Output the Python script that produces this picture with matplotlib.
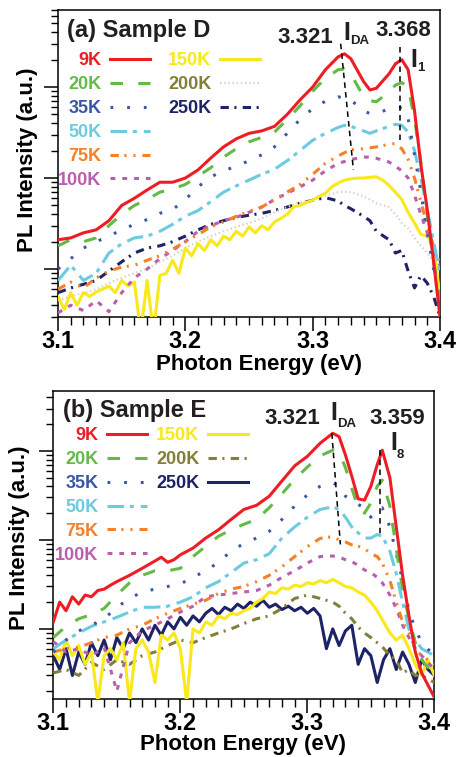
import numpy as np
import matplotlib
matplotlib.use('Agg')
import matplotlib.pyplot as plt
from matplotlib.ticker import MultipleLocator, LogLocator, NullFormatter

plt.rcParams['font.family'] = ['Liberation Sans', 'DejaVu Sans']
plt.rcParams['font.weight'] = 'bold'
plt.rcParams['lines.scale_dashes'] = False

temps = ['9K', '20K', '35K', '50K', '75K', '100K', '150K', '200K', '250K']

# ---------------- panel (a) Sample D ----------------
E_a = [3.10, 3.11, 3.12, 3.13, 3.14, 3.15, 3.16, 3.17, 3.18, 3.19, 3.20, 3.21,
       3.22, 3.23, 3.24, 3.25, 3.26, 3.27, 3.28, 3.29, 3.30, 3.31, 3.32, 3.325,
       3.33, 3.34, 3.345, 3.35, 3.36, 3.365, 3.37, 3.375, 3.38, 3.385, 3.39, 3.395, 3.40]

d_9K = [2.1, 2.2, 2.5, 2.7, 3.4, 5.0, 6.0, 7.4, 9.0, 9.0, 10, 12.3, 16.6, 22, 27, 31, 33, 37,
        50, 72, 100, 155, 215, 232, 205, 115, 93, 97, 140, 180, 200, 155, 55, 14, 4.5, 1.2, 0.3]
d_20K = [1.8, 2.1, 2.0, 2.2, 3.0, 4.0, 5.0, 5.8, 7.0, 7.6, 8.5, 10.5, 13, 17, 21, 25, 28, 32,
         44, 62, 90, 125, 155, 158, 140, 78, 71, 69, 88, 105, 112, 100, 45, 15, 4, 1.2, 0.45]
d_35K = [1.0, 1.3, 1.7, 2.0, 2.3, 2.7, 3.1, 3.5, 4.1, 4.5, 5.8, 8.0, 10.3, 12, 13.5, 15.5, 18, 22,
         31, 44, 58, 70, 78, 76, 72, 55, 51, 52, 57, 59, 60, 45, 18, 7, 2.5, 1.0, 0.4]
d_50K = [0.75, 1.1, 0.75, 0.9, 1.5, 1.9, 2.2, 2.3, 2.6, 3.1, 3.8, 4.4, 5.5, 7.0, 8.2, 9.5, 11, 12.5,
         15.5, 20, 26, 31, 36, 38, 37, 33, 31, 33, 37, 39, 38, 32, 20, 10, 4.5, 2.0, 0.9]
d_75K = [0.6, 0.72, 0.62, 0.8, 0.95, 1.05, 1.1, 1.25, 1.4, 1.65, 2.0, 2.4, 2.9, 3.3, 3.8, 4.3, 4.8, 5.8,
         7.0, 8.5, 11, 14.5, 17.5, 19, 20.5, 21, 21.5, 22, 23.5, 24, 21, 16, 10, 5.5, 3.0, 1.8, 1.2]
d_100K = [0.33, 0.40, 0.35, 0.45, 0.34, 0.55, 0.8, 1.0, 1.3, 1.6, 2.0, 2.6, 3.0, 3.4, 3.7, 4.2, 4.8, 5.8,
          6.8, 8.0, 9.5, 12, 14.5, 15.2, 16, 17, 17, 16.5, 15, 13.5, 12, 10, 6.5, 4, 2.5, 1.6, 1.1]
d_200K = [0.45, 0.5, 0.55, 0.6, 0.7, 0.8, 0.9, 1.0, 1.2, 1.4, 1.7, 2.0, 2.3, 2.6, 2.9, 3.2, 3.6, 4.2,
          4.8, 5.4, 5.8, 6.4, 7.0, 7.1, 7.0, 6.3, 5.8, 5.3, 4.8, 4.0, 3.2, 2.8, 2.2, 1.8, 1.5, 1.2, 1.0]
d_250K = [0.55, 0.62, 0.68, 0.75, 0.95, 1.2, 1.5, 1.7, 1.8, 2.0, 2.3, 2.7, 3.1, 3.4, 3.7, 3.9, 4.1, 4.4,
          4.8, 5.3, 5.7, 6.1, 5.6, 5.0, 4.6, 3.8, 3.4, 2.6, 2.1, 1.5, 1.6, 0.95, 0.62, 0.85, 0.7, 0.5, 0.3]

# 150K is noisy, read on a finer 5 meV grid
E_a_fine = np.round(np.arange(3.10, 3.4001, 0.005), 3)
d_150K = [0.5, 0.36, 0.55, 0.4, 0.55, 0.5, 0.56, 0.6, 0.65, 0.55,
          0.75, 0.65, 0.72, 0.2, 0.75, 0.2, 0.85, 0.9, 1.25, 0.9,
          1.7, 1.4, 1.9, 1.6, 2.1, 1.8, 2.3, 2.1, 2.6, 2.3,
          2.9, 2.5, 3.0, 2.7, 3.3, 3.6, 4.0, 4.8, 5.0, 5.4,
          5.7, 6.3, 6.8, 8.0, 8.8, 9.5, 9.8, 10, 10, 10.2,
          10.3, 9.5, 8.3, 7.0, 5.8, 4.2, 3.2, 2.4, 2.3, 1.8, 0.5]

series_a = {'9K': (E_a, d_9K), '20K': (E_a, d_20K), '35K': (E_a, d_35K),
            '50K': (E_a, d_50K), '75K': (E_a, d_75K), '100K': (E_a, d_100K),
            '150K': (E_a_fine, d_150K), '200K': (E_a, d_200K), '250K': (E_a, d_250K)}

mark_a_x = [[3.322, 3.332], [3.3686, 3.3686]]
mark_a_y = [[300, 12.3], [275, 26]]

# ---------------- panel (b) Sample E ----------------
E_b = [3.10, 3.11, 3.12, 3.13, 3.14, 3.15, 3.16, 3.17, 3.18, 3.19, 3.20, 3.21,
       3.22, 3.23, 3.24, 3.25, 3.26, 3.27, 3.28, 3.29, 3.30, 3.31, 3.32, 3.325,
       3.33, 3.335, 3.34, 3.345, 3.35, 3.355, 3.359, 3.365, 3.37, 3.375, 3.38, 3.385, 3.39, 3.40]

E_b_red = [3.10, 3.105, 3.11, 3.115, 3.12, 3.125, 3.13, 3.135, 3.14, 3.145, 3.15, 3.16, 3.17, 3.18,
           3.185, 3.19, 3.195, 3.20, 3.21, 3.22, 3.23, 3.24, 3.25, 3.26, 3.27, 3.28, 3.29, 3.30,
           3.31, 3.32, 3.325, 3.33, 3.335, 3.34, 3.345, 3.35, 3.355, 3.359, 3.365, 3.37, 3.375,
           3.38, 3.385, 3.39, 3.40]
e_9K = [1.2, 2.0, 1.6, 2.3, 1.9, 2.4, 2.3, 2.7, 2.8, 3.1, 3.4, 4.0, 4.8, 5.8,
        6.4, 5.6, 6.0, 6.8, 8.1, 10.5, 13, 17, 22, 24.5, 31, 46, 68, 87,
        122, 158, 145, 90, 52, 29, 28, 40, 70, 102, 50, 14, 4.0,
        1.4, 0.55, 0.32, 0.17]
e_20K = [0.8, 1.07, 1.3, 1.45, 1.7, 2.4, 3.3, 4.0, 4.5, 4.5, 4.8, 6.5, 8.5, 11, 13, 15, 17, 23,
         33, 48, 66, 88, 102, 96, 65, 38, 23, 20, 26, 40, 47, 24, 8, 2.8, 1.3, 0.7, 0.45, 0.3]
e_35K = [0.55, 0.75, 0.95, 1.1, 1.3, 1.75, 2.2, 2.6, 2.8, 3.0, 3.2, 3.8, 4.5, 5.6, 7.5, 9.1, 10.5, 12.5,
         17, 24, 32, 40, 44, 40, 31, 28, 25, 23, 18, 22, 23, 14, 7, 3.5, 1.6, 1.0, 0.7, 0.5]
e_50K = [0.6, 0.75, 0.9, 1.07, 1.2, 1.35, 1.55, 1.75, 1.75, 1.8, 2.0, 2.3, 2.9, 3.4, 4.3, 5.5, 6.0, 7.0,
         10.5, 14, 18, 22, 23.5, 22, 18, 14, 12, 10.5, 10.5, 11.5, 11, 7.5, 4.2, 2.0, 1.0, 0.75, 0.6, 0.5]
e_75K = [0.55, 0.6, 0.62, 0.7, 0.8, 0.85, 1.0, 1.1, 1.3, 1.5, 1.7, 1.9, 2.1, 2.5, 2.8, 3.0, 3.4, 4.0,
         5.0, 6.5, 8.4, 10.4, 10.9, 10, 9.5, 8.8, 8.5, 8.0, 7.0, 6.5, 5.5, 3.5, 2.0, 1.2, 0.9, 0.6, 0.5, 0.4]
e_100K = [0.72, 0.55, 0.6, 0.5, 0.62, 0.2, 0.7, 0.95, 1.1, 1.3, 1.55, 1.8, 2.3, 2.4, 2.5, 2.6, 2.7, 3.1,
          3.8, 4.5, 5.5, 6.5, 6.6, 6.4, 6.0, 5.7, 5.2, 4.6, 4.3, 3.8, 3.3, 2.4, 1.7, 1.1, 0.8, 0.6, 0.5, 0.35]
e_200K = [0.32, 0.35, 0.3, 0.42, 0.35, 0.45, 0.4, 0.5, 0.55, 0.65, 0.75, 0.7, 0.8, 0.9, 1.0, 1.15, 1.3, 1.4,
          1.7, 2.2, 2.4, 2.2, 2.0, 1.8, 1.5, 1.3, 1.05, 0.9, 0.8, 0.7, 0.63, 0.5, 0.45, 0.32, 0.35, 0.3, 0.3, 0.25]

E_b_fine = np.round(np.arange(3.10, 3.4001, 0.005), 3)
e_150K = [0.55, 0.45, 0.75, 0.5, 0.65, 0.4, 0.55, 0.15, 0.5, 0.6,
          0.45, 0.7, 0.15, 0.6, 0.75, 0.55, 0.25, 0.85, 0.75, 0.9,
          0.6, 0.15, 1.0, 0.9, 1.2, 1.1, 1.4, 1.3, 1.5, 1.45,
          1.6, 1.7, 2.0, 2.2, 2.6, 2.5, 2.9, 2.8, 3.1, 3.0,
          3.3, 3.2, 3.5, 3.3, 3.6, 3.3, 3.0, 2.9, 2.6, 2.4,
          2.0, 1.6, 1.2, 0.9, 0.75, 0.85, 0.6, 0.4, 0.3, 0.45, 0.3]
e_250K = [0.5, 0.35, 0.6, 0.3, 0.55, 0.4, 0.7, 0.5, 0.75, 0.45,
          0.8, 0.6, 0.9, 0.7, 1.0, 0.75, 1.1, 0.85, 1.2, 1.0,
          1.35, 1.1, 1.4, 1.2, 1.5, 1.7, 1.45, 1.75, 1.6, 1.9,
          1.7, 2.0, 1.8, 2.1, 1.75, 1.9, 1.65, 1.8, 1.6, 1.75,
          1.5, 1.7, 1.4, 0.6, 1.0, 0.65, 0.95, 1.1, 0.4, 0.6,
          0.5, 0.25, 0.45, 0.6, 0.35, 0.55, 0.4, 0.25, 0.45, 0.35, 0.3]

series_b = {'9K': (E_b_red, e_9K), '20K': (E_b, e_20K), '35K': (E_b, e_35K),
            '50K': (E_b, e_50K), '75K': (E_b, e_75K), '100K': (E_b, e_100K),
            '150K': (E_b_fine, e_150K), '200K': (E_b, e_200K), '250K': (E_b_fine, e_250K)}

mark_b_x = [[3.3193, 3.326], [3.357, 3.357]]
mark_b_y = [[158, 8.9], [103, 11.5]]

# ---------------- styles ----------------
colors = {'9K': '#ee1c25', '20K': '#62bb46', '35K': '#3a57a7', '50K': '#6ccbe0',
          '75K': '#f58025', '100K': '#b95fae', '150K': '#f9e81a', '200K': '#827f3a',
          '250K': '#1d2366'}
styles = {'9K': '-', '20K': (0, (9, 11)), '35K': (0, (2, 10)), '50K': (0, (12, 4, 3, 5)),
          '75K': (0, (6, 4, 1.5, 5, 1.5, 5)), '100K': (0, (3.5, 5)), '150K': '-',
          '200K': (0, (6, 4, 1.5, 4.5)), '250K': (0, (6, 4, 1.5, 4.5))}

fig = plt.figure(figsize=(4.61, 7.57), dpi=100)
ax_a = fig.add_axes([0.1258, 0.5812, 0.8286, 0.4055])
ax_b = fig.add_axes([0.1157, 0.0766, 0.8265, 0.4069])


def draw_panel(ax, series, panel):
    handles = []
    for t in temps:
        x, y = series[t]
        c = colors[t]
        ls = styles[t]
        lw = 2.2
        if panel == 'a' and t == '200K':
            c, ls, lw = '#d6d2bf', (0, (1, 2)), 1.6
        if panel == 'b' and t == '250K':
            ls = '-'
        h, = ax.plot(x, y, color=c, linestyle=ls, lw=lw, label=t)
        handles.append(h)
    # low temperature curves on top
    for i, h in enumerate(handles):
        h.set_zorder(20 - i)
    return handles


def style_axes(ax, ylim):
    ax.set_yscale('log')
    ax.set_xlim(3.1, 3.4)
    ax.set_ylim(*ylim)
    ax.xaxis.set_major_locator(MultipleLocator(0.1))
    ax.xaxis.set_minor_locator(MultipleLocator(0.01))
    ax.yaxis.set_major_locator(LogLocator(base=10))
    ax.yaxis.set_minor_locator(LogLocator(base=10, subs=np.arange(2, 10)))
    ax.yaxis.set_major_formatter(NullFormatter())
    ax.yaxis.set_minor_formatter(NullFormatter())
    ax.set_xticks([3.1, 3.2, 3.3, 3.4])
    ax.set_xticklabels(['3.1', '3.2', '3.3', '3.4'])
    ax.tick_params(axis='x', which='major', direction='out', length=10, width=1.1,
                   labelsize=17, pad=-1, top=False)
    ax.tick_params(axis='x', which='minor', direction='out', length=5.5, width=1.0, top=False)
    ax.tick_params(axis='y', which='major', direction='out', length=10, width=1.1, right=False)
    ax.tick_params(axis='y', which='minor', direction='out', length=5, width=1.0, right=False)
    for lab in ax.get_xticklabels():
        lab.set_fontweight('bold')
    for s in ax.spines.values():
        s.set_linewidth(1.1)
    ax.set_xlabel('Photon Energy (eV)', fontsize=16, fontweight='bold')
    ax.set_ylabel('PL Intensity (a.u.)', fontsize=16, fontweight='bold')


def add_legends(ax, handles, x1, x2, ytop, text_colors):
    kw = dict(loc='upper right', frameon=False, markerfirst=False, borderpad=0,
              borderaxespad=0, handlelength=2.2, handletextpad=0.5, labelspacing=0.38,
              prop={'size': 13, 'weight': 'bold'})
    leg1 = ax.legend(handles[:6], temps[:6], bbox_to_anchor=(x1, ytop),
                     labelcolor=text_colors[:6], **kw)
    ax.add_artist(leg1)
    leg2 = ax.legend(handles[6:], temps[6:], bbox_to_anchor=(x2, ytop),
                     labelcolor=text_colors[6:], **kw)
    for leg in (leg1, leg2):
        leg.set_zorder(30)


text_cols = [colors[t] for t in temps]
ink = '#231f20'

# panel a
h_a = draw_panel(ax_a, series_a, 'a')
style_axes(ax_a, (0.297, 702))
for mx, my in zip(mark_a_x, mark_a_y):
    ax_a.plot(mx, my, color='black', lw=1.1, linestyle=(0, (4, 3)), zorder=25)
add_legends(ax_a, h_a, 0.241, 0.529, 0.862, text_cols)
ax_a.text(0.024, 0.935, '(a) Sample D', transform=ax_a.transAxes, fontsize=17,
          fontweight='bold', ha='left', va='center', color=ink)
ax_a.text(0.647, 0.912, '3.321', transform=ax_a.transAxes, fontsize=16,
          fontweight='bold', ha='center', va='center', color=ink)
ax_a.text(0.747, 0.925, 'I', transform=ax_a.transAxes, fontsize=18,
          fontweight='bold', ha='left', va='center', color=ink)
ax_a.text(0.764, 0.898, 'DA', transform=ax_a.transAxes, fontsize=9.5,
          fontweight='bold', ha='left', va='center', color=ink)
ax_a.text(0.903, 0.935, '3.368', transform=ax_a.transAxes, fontsize=16,
          fontweight='bold', ha='center', va='center', color=ink)
ax_a.text(0.922, 0.838, 'I', transform=ax_a.transAxes, fontsize=18,
          fontweight='bold', ha='left', va='center', color=ink)
ax_a.text(0.940, 0.812, '1', transform=ax_a.transAxes, fontsize=9.5,
          fontweight='bold', ha='left', va='center', color=ink)
ax_a.xaxis.set_label_coords(0.526, -0.122)
ax_a.yaxis.set_label_coords(-0.052, 0.511)

# panel b
h_b = draw_panel(ax_b, series_b, 'b')
style_axes(ax_b, (0.163, 472))
for mx, my in zip(mark_b_x, mark_b_y):
    ax_b.plot(mx, my, color='black', lw=1.1, linestyle=(0, (4, 3)), zorder=25)
add_legends(ax_b, h_b, 0.246, 0.511, 0.882, text_cols)
ax_b.text(0.025, 0.938, '(b) Sample E', transform=ax_b.transAxes, fontsize=17,
          fontweight='bold', ha='left', va='center', color=ink)
ax_b.text(0.627, 0.912, '3.321', transform=ax_b.transAxes, fontsize=16,
          fontweight='bold', ha='center', va='center', color=ink)
ax_b.text(0.726, 0.929, 'I', transform=ax_b.transAxes, fontsize=18,
          fontweight='bold', ha='left', va='center', color=ink)
ax_b.text(0.744, 0.893, 'DA', transform=ax_b.transAxes, fontsize=9.5,
          fontweight='bold', ha='left', va='center', color=ink)
ax_b.text(0.902, 0.912, '3.359', transform=ax_b.transAxes, fontsize=16,
          fontweight='bold', ha='center', va='center', color=ink)
ax_b.text(0.884, 0.831, 'I', transform=ax_b.transAxes, fontsize=18,
          fontweight='bold', ha='left', va='center', color=ink)
ax_b.text(0.902, 0.792, '8', transform=ax_b.transAxes, fontsize=9.5,
          fontweight='bold', ha='left', va='center', color=ink)
ax_b.xaxis.set_label_coords(0.498, -0.112)
ax_b.yaxis.set_label_coords(-0.062, 0.523)

fig.savefig('out.png', dpi=100)
